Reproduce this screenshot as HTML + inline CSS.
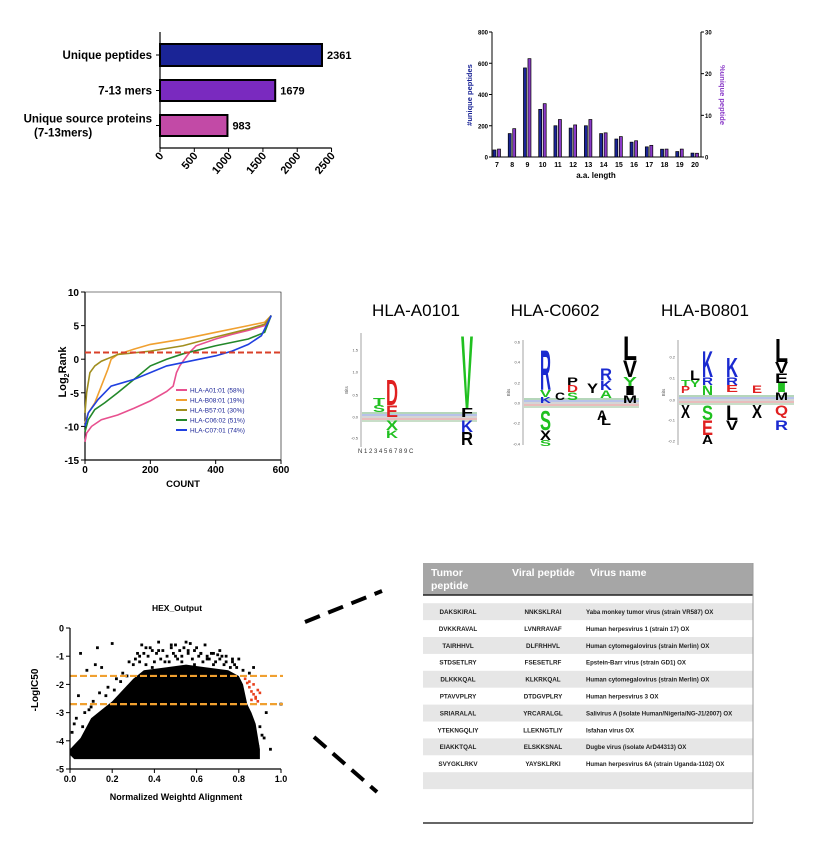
<!DOCTYPE html>
<html><head><meta charset="utf-8"><style>
html,body{margin:0;padding:0;background:#fff}
svg{display:block;font-family:"Liberation Sans",sans-serif}
</style></head><body>
<svg id="fig" width="819" height="850" viewBox="0 0 819 850" xmlns="http://www.w3.org/2000/svg">
<rect width="819" height="850" fill="#fff"/>
</svg>
<script>
// ---------- DATA ----------
const barCats = ["Unique peptides","7-13 mers","Unique source proteins"];
const barVals = [2361,1679,983];
const barTicks = [0,500,1000,1500,2000,2500];

const lenCats = [7,8,9,10,11,12,13,14,15,16,17,18,19,20];
const lenCounts = [45,150,570,305,200,185,200,150,115,95,65,50,35,25];
const lenPct = [1.9,6.8,23.6,12.8,9.0,7.7,9.0,5.8,4.9,3.9,2.8,1.9,1.9,0.9];
const lenLeftTicks = [0,200,400,600,800];
const lenRightTicks = [0,10,20,30];

const rankNames = ["HLA-A01:01 (58%)","HLA-B08:01 (19%)","HLA-B57:01 (30%)","HLA-C06:02 (51%)","HLA-C07:01 (74%)"];
const rankA01x = [0,5,20,50,100,150,200,250,270,280,290,300,320,340,400,450,500,550,570];
const rankA01y = [-12.3,-11,-10,-9,-8.3,-7.3,-6.2,-4.8,-4,-2,-1,-0.3,1,2,3,3.7,4.3,5,6.5];
const rankB08x = [0,10,30,50,70,80,100,150,200,300,400,500,550,570];
const rankB08y = [-9.5,-8,-6.5,-4,-1.5,0,0.7,1.5,2.2,3,4,5,5.5,6.5];
const rankB57x = [0,5,15,30,50,80,100,200,300,400,500,550,570];
const rankB57y = [-8,-5,-2,-1,-0.3,0.3,0.7,1.2,2,3.3,4.5,5.2,6.5];
const rankC06x = [0,10,30,60,100,150,200,250,300,400,500,550,570];
const rankC06y = [-10.8,-9,-7.5,-6.5,-5,-3,-1,0,0.8,2,3,4,6.5];
const rankC07x = [0,10,40,80,150,200,250,300,400,450,500,540,570];
const rankC07y = [-10,-8,-6,-4,-3,-2,-1,-0.5,0.5,1.2,2.2,3.5,6.5];
const rankThreshold = 1;
const rankXTicks = [0,200,400,600];
const rankYTicks = [10,5,0,-5,-10,-15];

const hexEnvX = [0.0,0.05,0.1,0.15,0.2,0.25,0.3,0.35,0.45,0.55,0.65,0.75,0.8,0.82,0.84,0.86,0.88,0.9];
const hexEnvTop = [-4.3,-3.9,-3.2,-2.9,-2.6,-2.2,-1.8,-1.5,-1.4,-1.3,-1.4,-1.5,-1.7,-2.0,-2.7,-3.0,-3.4,-4.3];
const hexEnvBottom = -4.65;
const hexOutX = [0.05,0.08,0.12,0.13,0.15,0.2,0.22,0.25,0.28,0.32,0.34,0.38,0.42,0.5,0.55,0.57,0.6,0.64,0.68,0.7,0.72,0.78,0.8,0.82,0.86,0.9,0.93,0.95,1.0,0.02,0.04,0.1,0.18,0.88,0.92,
 0.3,0.31,0.33,0.35,0.36,0.37,0.39,0.4,0.41,0.43,0.44,0.46,0.47,0.48,0.49,0.51,0.52,0.53,0.54,0.56,0.58,0.59,0.61,0.62,0.63,0.65,0.66,0.67,0.69,0.71,0.73,0.74,0.76,0.77,0.79,
 0.33,0.36,0.39,0.42,0.45,0.48,0.5,0.53,0.56,0.59,0.62,0.65,0.68,0.71,0.74,0.77,0.27,0.24,0.21,0.17,0.14,0.11,0.07,0.03,0.01,0.06,0.09,0.85,0.87,0.91,0.84,0.89];
const hexOutY = [-0.9,-1.5,-1.3,-0.7,-1.4,-0.55,-1.8,-1.6,-1.2,-0.9,-0.6,-0.7,-0.5,-0.6,-0.5,-0.55,-0.7,-0.6,-0.9,-0.95,-1.0,-1.3,-1.1,-1.5,-3.2,-3.5,-3.0,-4.3,-2.7,-3.4,-2.4,-2.8,-2.1,-3.9,-3.9,
 -1.3,-1.1,-1.2,-0.9,-1.3,-1.0,-0.8,-1.2,-0.9,-1.1,-0.8,-1.0,-1.2,-0.7,-0.9,-1.1,-0.8,-1.0,-0.7,-0.9,-1.1,-0.8,-1.0,-0.9,-1.2,-1.0,-1.1,-0.9,-1.2,-1.1,-1.3,-1.0,-1.4,-1.2,-1.4,
 -1.0,-0.7,-1.4,-0.8,-1.2,-0.6,-1.0,-1.2,-0.8,-1.3,-0.9,-1.1,-1.3,-0.8,-1.2,-1.1,-1.7,-1.9,-2.2,-2.4,-2.3,-2.6,-3.0,-3.2,-3.7,-3.5,-2.9,-1.6,-1.4,-3.8,-3.1,-4.2];
const hexRedX = [0.83,0.84,0.85,0.86,0.87,0.88,0.89,0.85,0.87,0.89,0.86,0.88,0.9];
const hexRedY = [-1.8,-1.95,-2.1,-2.25,-2.35,-2.5,-2.6,-1.9,-2.0,-2.2,-2.55,-2.45,-2.3];
const hexLines = [-1.7,-2.7];
const hexXTicks = [0.0,0.2,0.4,0.6,0.8,1.0];
const hexYTicks = [0,-1,-2,-3,-4,-5];

const tumorPep = ["DAKSKIRAL","DVKKRAVAL","TAIRHHVL","STDSETLRY","DLKKKQAL","PTAVVPLRY","SRIARALAL","YTEKNGQLIY","EIAKKTQAL","SVYGKLRKV"];
const viralPep = ["NNKSKLRAI","LVNRRAVAF","DLFRHHVL","FSESETLRF","KLKRKQAL","DTDGVPLRY","YRCARALGL","LLEKNGTLIY","ELSKKSNAL","YAYSKLRKI"];
const virusName = ["Yaba monkey tumor virus (strain VR587) OX","Human herpesvirus 1 (strain 17) OX","Human cytomegalovirus (strain Merlin) OX","Epstein-Barr virus (strain GD1) OX","Human cytomegalovirus (strain Merlin) OX","Human herpesvirus 3 OX","Salivirus A (isolate Human/Nigeria/NG-J1/2007) OX","Isfahan virus OX","Dugbe virus (isolate ArD44313) OX","Human herpesvirus 6A (strain Uganda-1102) OX"];

// ---------- HELPERS ----------
const NS="http://www.w3.org/2000/svg";
const svg=document.getElementById('fig');
function mk(tag,attrs,parent,txt){const e=document.createElementNS(NS,tag);for(const k in attrs)e.setAttribute(k,attrs[k]);if(txt!==undefined)e.textContent=txt;(parent||svg).appendChild(e);return e;}
function grp(name){const g=mk('g',{});return g;}

// ---------- PANEL A: bars ----------
(function(){
 const g=grp('summary-bar-chart');
 const x0=160,sc=(322-160)/2361,xA=v=>x0+v*sc;
 const ys=[[44,66],[80,101],[115,136]];
 const cols=['#1a2496','#7a2abf','#c24aa6'];
 let e=mk('line',{x1:x0,y1:32,x2:x0,y2:148,stroke:'#000','stroke-width':1.2},g);
 
 e=mk('line',{x1:x0,y1:148,x2:xA(2500),y2:148,stroke:'#000','stroke-width':1.2},g);
 
 barCats.forEach((c,i)=>{
  const r=mk('rect',{x:x0,y:ys[i][0],width:xA(barVals[i])-x0,height:ys[i][1]-ys[i][0],fill:cols[i],stroke:'#000','stroke-width':2},g);
  
  
  const cy=(ys[i][0]+ys[i][1])/2;
  const t=mk('line',{x1:x0-4,y1:cy,x2:x0,y2:cy,stroke:'#000'},g);
  
  const v=mk('text',{x:xA(barVals[i])+5,y:cy+4,'font-size':11,'font-weight':'bold'},g,String(barVals[i]));
  
  if(i<2){const l=mk('text',{x:x0-8,y:cy+4,'font-size':11.5,'font-weight':'bold','text-anchor':'end'},g,c);}
  else{const l=mk('text',{x:x0-8,y:cy-3,'font-size':11.5,'font-weight':'bold','text-anchor':'end'},g,'Unique source proteins');
   const l2=mk('text',{x:34,y:cy+11,'font-size':11.5,'font-weight':'bold'},g,'(7-13mers)');}
 });
 barTicks.forEach(v=>{
  const x=xA(v);
  const t=mk('line',{x1:x,y1:148,x2:x,y2:152,stroke:'#000'},g);
  
  const l=mk('text',{x:x+4,y:156,'font-size':11,'font-weight':'bold','text-anchor':'end',transform:`rotate(-50 ${x+4} 156)`},g,String(v));
  
 });
})();

// ---------- PANEL B: length distribution ----------
(function(){
 const g=grp('length-distribution-chart');
 const xl=492,xr=701,yt=32,yb=157;
 const yL=v=>yb-v/800*(yb-yt), yR=v=>yb-v/30*(yb-yt);
 const xC=i=>497+i*(695-497)/13;
 let e=mk('line',{x1:xl,y1:yt,x2:xl,y2:yb,stroke:'#000'},g);
 e=mk('line',{x1:xr,y1:yt,x2:xr,y2:yb,stroke:'#000'},g);
 e=mk('line',{x1:xl,y1:yb,x2:xr,y2:yb,stroke:'#000'},g);
 lenLeftTicks.forEach(v=>{const y=yL(v);let t=mk('line',{x1:xl-3,y1:y,x2:xl,y2:y,stroke:'#000'},g);
  t=mk('text',{x:xl-4,y:y+2.5,'font-size':6,'font-weight':'bold','text-anchor':'end'},g,String(v));});
 lenRightTicks.forEach(v=>{const y=yR(v);let t=mk('line',{x1:xr,y1:y,x2:xr+3,y2:y,stroke:'#000'},g);
  t=mk('text',{x:xr+4,y:y+2.5,'font-size':6,'font-weight':'bold'},g,String(v));});
 lenCats.forEach((c,i)=>{
  const cx=xC(i);
  let b=mk('rect',{x:cx-4,y:yL(lenCounts[i]),width:3,height:yb-yL(lenCounts[i]),fill:'#1a2496',stroke:'#000','stroke-width':0.7},g);
  
  
  b=mk('rect',{x:cx+0.5,y:yR(lenPct[i]),width:3,height:yb-yR(lenPct[i]),fill:'#8a3ac8',stroke:'#000','stroke-width':0.7},g);
  
  
  const l=mk('text',{x:cx,y:167,'font-size':7,'font-weight':'bold','text-anchor':'middle'},g,String(c));
  
 });
 e=mk('text',{x:596,y:178,'font-size':8,'font-weight':'bold','text-anchor':'middle'},g,'a.a. length');
 e=mk('text',{x:0,y:0,'font-size':7.5,'font-weight':'bold',fill:'#1a2496','text-anchor':'middle',transform:'translate(472 95) rotate(-90)'},g,'#unique peptides');
 e=mk('text',{x:0,y:0,'font-size':7.5,'font-weight':'bold',fill:'#8a3ac8','text-anchor':'middle',transform:'translate(720 95) rotate(90)'},g,'%unique peptide');
})();

// ---------- PANEL C: rank curves ----------
(function(){
 const g=grp('log2rank-chart');
 const xl=85,xr=281,yt=292,yb=460;
 const xS=v=>xl+v/600*(xr-xl), yS=v=>yt+(10-v)/25*(yb-yt);
 let e=mk('line',{x1:xl,y1:yt,x2:xl,y2:yb,stroke:'#000','stroke-width':1.2},g);
 e=mk('line',{x1:xl,y1:yb,x2:xr,y2:yb,stroke:'#000','stroke-width':1.2},g);
 e=mk('polyline',{points:`${xl},${yt} ${xr},${yt} ${xr},${yb}`,fill:'none',stroke:'#000','stroke-width':0.6},g);
 rankYTicks.forEach(v=>{const y=yS(v);let t=mk('line',{x1:xl-4,y1:y,x2:xl,y2:y,stroke:'#000'},g);
  t=mk('text',{x:xl-6,y:y+4,'font-size':10,'font-weight':'bold','text-anchor':'end'},g,String(v));});
 rankXTicks.forEach(v=>{const x=xS(v);let t=mk('line',{x1:x,y1:yb,x2:x,y2:yb+4,stroke:'#000'},g);
  t=mk('text',{x:x,y:yb+13,'font-size':10,'font-weight':'bold','text-anchor':'middle'},g,String(v));});
 e=mk('text',{x:183,y:487,'font-size':9.5,'font-weight':'bold','text-anchor':'middle'},g,'COUNT');
 e=mk('text',{x:0,y:0,'font-size':11,'font-weight':'bold','text-anchor':'middle',transform:'translate(66 372) rotate(-90)'},g);
 
 mk('tspan',{},e,'Log');mk('tspan',{'font-size':7,dy:3},e,'2');mk('tspan',{dy:-3},e,'Rank');
 const series=[[rankA01x,rankA01y,'#e8508f'],[rankB08x,rankB08y,'#f0a030'],[rankB57x,rankB57y,'#a08e1e'],[rankC06x,rankC06y,'#23882a'],[rankC07x,rankC07y,'#2040e0']];
 series.forEach((s,i)=>{
  const pts=s[0].map((x,j)=>xS(x)+','+yS(s[1][j])).join(' ');
  const p=mk('polyline',{points:pts,fill:'none',stroke:s[2],'stroke-width':1.6},g);
  
  
  const ly=390+i*10;
  const l=mk('line',{x1:176,y1:ly,x2:187,y2:ly,stroke:s[2],'stroke-width':2},g);
  
  const t=mk('text',{x:190,y:ly+2.5,'font-size':6.5,fill:'#1a2496'},g,rankNames[i]);
  
 });
 e=mk('line',{x1:xl,y1:yS(rankThreshold),x2:xr,y2:yS(rankThreshold),stroke:'#d9402a','stroke-width':2,'stroke-dasharray':'6 3'},g);
 
})();

// ---------- PANEL D: sequence logos ----------
function letter(g,ch,x0,x1,ytop,ybot,color){
 const h=ybot-ytop;
 const t=mk('text',{x:x0,y:ybot,'font-size':h/0.72,'font-weight':'bold',fill:color,textLength:x1-x0,lengthAdjust:'spacingAndGlyphs'},g,ch);
 
}
function logoAxis(g,ax,yt,yb,y0,ticks,name){
 let e=mk('line',{x1:ax,y1:yt,x2:ax,y2:yb,stroke:'#666','stroke-width':0.6},g);
 ticks.forEach(tk=>{const t=mk('text',{x:ax-3,y:tk[1]+1.5,'font-size':4,fill:'#555','text-anchor':'end'},g,tk[0]);});
 e=mk('text',{x:0,y:0,'font-size':4.5,fill:'#555','text-anchor':'middle',transform:`translate(${ax-13} ${(yt+yb)/2}) rotate(-90)`},g,'Bits');
 const cols=['#2a8a3a','#3050c0','#888','#c04040','#60a060'];
 for(let k=0;k<5;k++){e=mk('rect',{x:ax+1,y:y0-5+k*2,width:115,height:2,fill:cols[k],opacity:0.35},g);}
}
(function(){
 const g=grp('logo-a0101');
 let e=mk('text',{x:416,y:316,'font-size':17,'text-anchor':'middle'},g,'HLA-A0101');
 logoAxis(g,361,333,447,417,[['1.5',350],['1.0',372],['0.5',395],['0.0',417],['-0.5',438]],'logo-a');
 letter(g,'D',386,398,379,405,'#e02020');letter(g,'E',386,398,405,417,'#e02020');
 letter(g,'T',373,385,398,405,'#20c020');letter(g,'S',373,385,405,412,'#20c020');
 letter(g,'X',386,398,420,430,'#20c020');letter(g,'K',386,398,430,438,'#20c020');
 letter(g,'V',461,473,333,408,'#20c020');letter(g,'F',461,473,408,417,'#000');
 letter(g,'K',461,473,420,432,'#1a2ad0');letter(g,'R',461,473,432,445,'#000');
 e=mk('text',{x:358,y:453,'font-size':6,fill:'#333'},g,'N   1     2     3    4     5     6    7     8     9  C');
})();
(function(){
 const g=grp('logo-c0602');
 let e=mk('text',{x:555,y:316,'font-size':17,'text-anchor':'middle'},g,'HLA-C0602');
 logoAxis(g,523,340,445,403,[['0.6',342],['0.4',362],['0.2',383],['0.0',403],['-0.2',423],['-0.4',444]],'logo-c');
 letter(g,'R',540,551,349,390,'#1a2ad0');letter(g,'V',540,551,390,397,'#20c020');letter(g,'K',540,551,397,403,'#1a2ad0');
 letter(g,'S',540,551,410,430,'#20c020');letter(g,'X',540,551,430,440,'#000');letter(g,'S',540,551,440,446,'#20c020');
 letter(g,'C',555,565,392,400,'#000');letter(g,'P',567,578,377,385,'#000');letter(g,'D',567,578,385,392,'#e02020');letter(g,'S',567,578,392,400,'#20c020');
 letter(g,'Y',587,598,383,393,'#000');letter(g,'R',600,612,368,380,'#1a2ad0');letter(g,'K',600,612,380,390,'#1a2ad0');letter(g,'A',600,612,390,398,'#20c020');
 letter(g,'L',623,637,335,360,'#000');letter(g,'V',623,637,360,377,'#000');letter(g,'Y',623,637,377,386,'#20c020');letter(g,'I',623,637,386,395,'#000');letter(g,'M',623,637,395,403,'#000');
 letter(g,'A',597,607,410,420,'#000');letter(g,'L',601,611,415,425,'#000');
})();
(function(){
 const g=grp('logo-b0801');
 let e=mk('text',{x:705,y:316,'font-size':17,'text-anchor':'middle'},g,'HLA-B0801');
 logoAxis(g,678,340,445,400,[['0.2',357],['0.1',378],['0.0',400],['-0.1',420],['-0.2',441]],'logo-b');
 letter(g,'T',681,690,380,386,'#20c020');letter(g,'P',681,690,386,393,'#e02020');letter(g,'X',681,690,405,418,'#000');
 letter(g,'L',690,700,370,380,'#000');letter(g,'Y',690,700,380,387,'#20c020');
 letter(g,'K',702,713,350,377,'#1a2ad0');letter(g,'R',702,713,377,385,'#1a2ad0');letter(g,'N',702,713,385,395,'#20c020');
 letter(g,'S',702,713,405,420,'#20c020');letter(g,'E',702,713,420,435,'#e02020');letter(g,'A',702,713,435,444,'#000');
 letter(g,'K',726,738,357,377,'#1a2ad0');letter(g,'R',726,738,377,385,'#1a2ad0');letter(g,'E',726,738,385,392,'#e02020');
 letter(g,'L',726,738,405,420,'#000');letter(g,'V',726,738,420,430,'#000');
 letter(g,'E',752,762,385,393,'#e02020');letter(g,'X',752,762,405,418,'#000');
 letter(g,'L',775,788,338,362,'#000');letter(g,'V',775,788,362,373,'#000');letter(g,'E',775,788,373,383,'#000');letter(g,'I',775,788,383,392,'#20c020');letter(g,'M',775,788,392,400,'#000');
 letter(g,'Q',775,788,405,415,'#e02020');letter(g,'R',775,788,420,430,'#1a2ad0');
})();

// ---------- PANEL E: HEX scatter ----------
(function(){
 const g=grp('hex-scatter-chart');
 const xl=70,xr=281,yt=628,yb=769;
 const xS=v=>xl+v*(xr-xl), yS=v=>yt+(-v)/5*(yb-yt);
 let e=mk('text',{x:177,y:611,'font-size':8.5,'font-weight':'bold','text-anchor':'middle'},g,'HEX_Output');
 const pts=hexEnvX.map((x,i)=>xS(x)+','+yS(hexEnvTop[i])).join(' ')+' '+xS(0.9)+','+yS(hexEnvBottom)+' '+xS(0.02)+','+yS(hexEnvBottom)+' '+xS(0)+','+yS(-4.5);
 e=mk('polygon',{points:pts,fill:'#000'},g);
 hexOutX.forEach((x,i)=>{const p=mk('rect',{x:xS(x)-1.4,y:yS(hexOutY[i])-1.4,width:2.8,height:2.8,fill:'#000'},g);
  });
 hexRedX.forEach((x,i)=>{const p=mk('rect',{x:xS(x)-1.3,y:yS(hexRedY[i])-1.3,width:2.6,height:2.6,fill:'#e8401c'},g);
  });
 hexLines.forEach(v=>{const l=mk('line',{x1:xl,y1:yS(v),x2:xS(1.0)+2,y2:yS(v),stroke:'#f0a030','stroke-width':2.2,'stroke-dasharray':'7 3'},g);
  });
 e=mk('line',{x1:xl,y1:yt,x2:xl,y2:yb,stroke:'#000','stroke-width':1.2},g);
 e=mk('line',{x1:xl,y1:yb,x2:xr,y2:yb,stroke:'#000','stroke-width':1.2},g);
 hexYTicks.forEach(v=>{const y=yS(v);let t=mk('line',{x1:xl-4,y1:y,x2:xl,y2:y,stroke:'#000'},g);
  t=mk('text',{x:xl-6,y:y+3.5,'font-size':9,'font-weight':'bold','text-anchor':'end'},g,String(v));});
 hexXTicks.forEach(v=>{const x=xS(v);let t=mk('line',{x1:x,y1:yb,x2:x,y2:yb+4,stroke:'#000'},g);
  t=mk('text',{x:x,y:yb+13,'font-size':9,'font-weight':'bold','text-anchor':'middle'},g,v.toFixed(1));});
 e=mk('text',{x:176,y:800,'font-size':9,'font-weight':'bold','text-anchor':'middle'},g,'Normalized Weightd Alignment');
 e=mk('text',{x:0,y:0,'font-size':10,'font-weight':'bold','text-anchor':'middle',transform:'translate(38 690) rotate(-90)'},g,'-LogIC50');
})();

// ---------- connector dashes ----------
(function(){
 const g=grp('zoom-connectors');
 let e=mk('line',{x1:305,y1:622,x2:382,y2:591,stroke:'#000','stroke-width':4,'stroke-dasharray':'16 9'},g);
 e=mk('line',{x1:314,y1:737,x2:377,y2:792,stroke:'#000','stroke-width':4,'stroke-dasharray':'16 9'},g);
})();

// ---------- TABLE ----------
(function(){
 const g=grp('peptide-table');
 let e=mk('rect',{x:423,y:563,width:330,height:32,fill:'#a6a6a6'},g);
 e=mk('line',{x1:423,y1:595,x2:753,y2:595,stroke:'#222','stroke-width':1.5},g);
 e=mk('text',{x:431,y:576,'font-size':10.5,'font-weight':'bold',fill:'#fff'},g,'Tumor');
 e=mk('text',{x:431,y:589,'font-size':10.5,'font-weight':'bold',fill:'#fff'},g,'peptide');
 e=mk('text',{x:512,y:576,'font-size':10.5,'font-weight':'bold',fill:'#fff'},g,'Viral peptide');
 e=mk('text',{x:590,y:576,'font-size':10.5,'font-weight':'bold',fill:'#fff'},g,'Virus name');
 const pitch=16.9, y0=611.7;
 for(let i=0;i<12;i++){
  if(i%2===0){const r=mk('rect',{x:423,y:y0+i*pitch-8.5,width:330,height:pitch,fill:'#e6e6e6'},g);}
 }
 tumorPep.forEach((t,i)=>{
  const y=y0+i*pitch+2.3;
  let c=mk('text',{x:458,y:y,'font-size':6.3,'font-weight':'bold','text-anchor':'middle',fill:'#222'},g,t);
  c=mk('text',{x:543,y:y,'font-size':6.3,'font-weight':'bold','text-anchor':'middle',fill:'#222'},g,viralPep[i]);
  c=mk('text',{x:586,y:y,'font-size':6.1,'font-weight':'bold',fill:'#222'},g,virusName[i]);
 });
 e=mk('line',{x1:753,y1:563,x2:753,y2:823,stroke:'#999','stroke-width':1},g);
 e=mk('line',{x1:423,y1:823,x2:753,y2:823,stroke:'#333','stroke-width':1.5},g);
})();
</script>
</body></html>
